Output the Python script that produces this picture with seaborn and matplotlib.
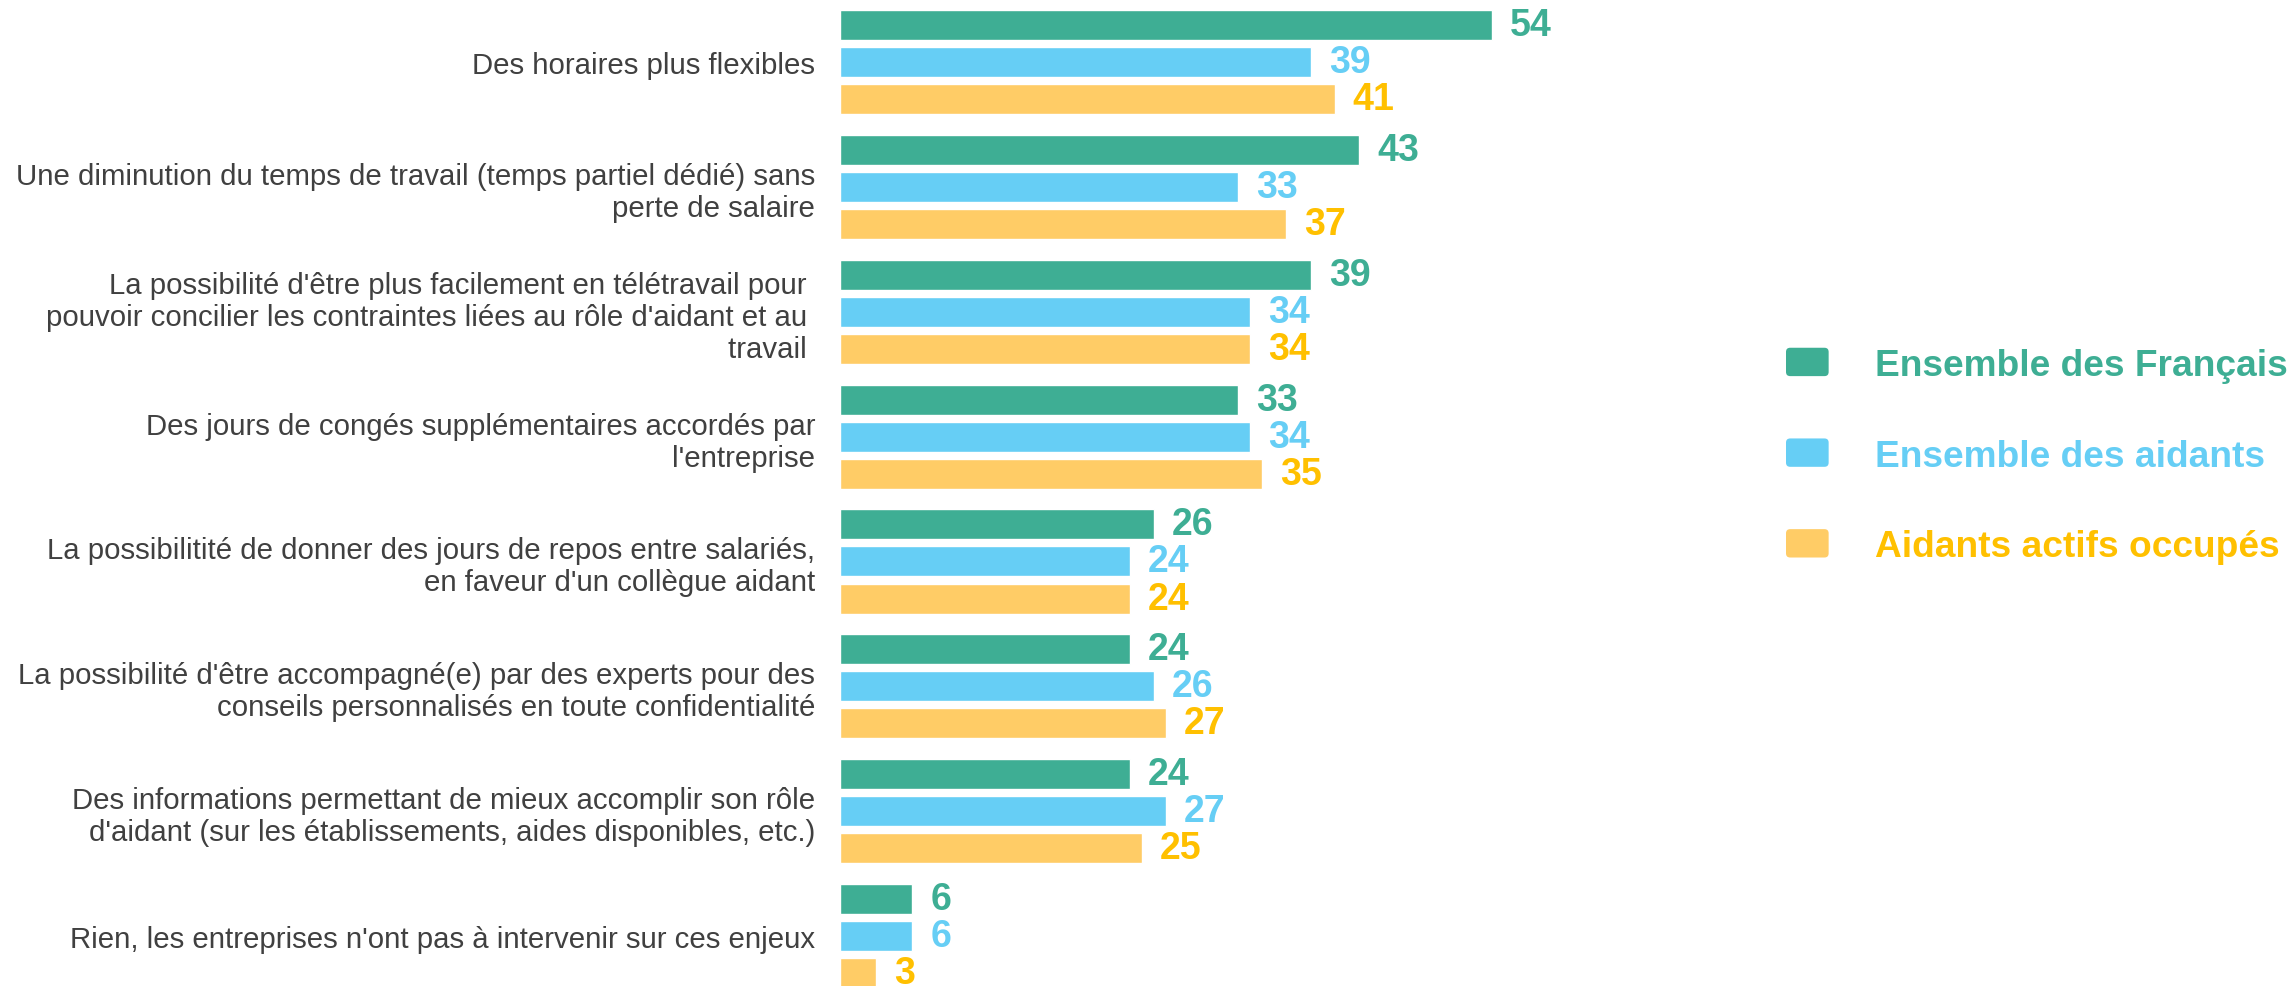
import pandas as pd
import matplotlib
matplotlib.use("Agg")
import matplotlib.pyplot as plt
import seaborn as sns
from matplotlib.patches import FancyBboxPatch
from matplotlib.legend_handler import HandlerPatch

# data
categories = [
    "Des horaires plus flexibles",
    "Une diminution du temps de travail (temps partiel dédié) sans\nperte de salaire",
    "La possibilité d'être plus facilement en télétravail pour \npouvoir concilier les contraintes liées au rôle d'aidant et au \ntravail ",
    "Des jours de congés supplémentaires accordés par\nl'entreprise",
    "La possibilitité de donner des jours de repos entre salariés,\nen faveur d'un collègue aidant",
    "La possibilité d'être accompagné(e) par des experts pour des\nconseils personnalisés en toute confidentialité",
    "Des informations permettant de mieux accomplir son rôle\nd'aidant (sur les établissements, aides disponibles, etc.)",
    "Rien, les entreprises n'ont pas à intervenir sur ces enjeux",
]
series = ["Ensemble des Français", "Ensemble des aidants", "Aidants actifs occupés"]
francais = [54, 43, 39, 33, 26, 24, 24, 6]
aidants = [39, 33, 34, 34, 24, 26, 27, 6]
actifs = [41, 37, 34, 35, 24, 27, 25, 3]

bar_colors = ["#3EAE94", "#66CEF5", "#FFCC66"]
text_colors = ["#3EAE94", "#66CEF5", "#FFC000"]

df = pd.DataFrame({
    "categorie": categories * 3,
    "groupe": [s for s in series for _ in categories],
    "valeur": francais + aidants + actifs,
})


class RoundedHandler(HandlerPatch):
    # rounded squares like the reference legend
    def create_artists(self, legend, orig_handle, xdescent, ydescent,
                       width, height, fontsize, trans):
        p = FancyBboxPatch((-xdescent, -ydescent), width, height,
                           boxstyle="round,pad=0,rounding_size=3",
                           facecolor=orig_handle.get_facecolor(), edgecolor="none",
                           transform=trans)
        return [p]


sns.set_style("white")
plt.rcParams["font.family"] = ["Liberation Sans Narrow", "Liberation Sans", "DejaVu Sans"]

fig = plt.figure(figsize=(22.92, 9.87), dpi=100)
ax = fig.add_axes([840 / 2292, 0, 724 / 2292, 1])

sns.barplot(data=df, y="categorie", x="valeur", hue="groupe", order=categories,
            hue_order=series, palette=bar_colors, orient="h", width=0.89, gap=0.19,
            saturation=1, ax=ax)

for cont, col in zip(ax.containers, text_colors):
    ax.bar_label(cont, padding=13, color=col, fontsize=27, fontweight="bold")

ax.set_xlim(0, 60)
ax.set_ylim(7.40, -0.505)
ax.set_xlabel("")
ax.set_ylabel("")
ax.set_xticks([])
ax.tick_params(axis="y", length=0, pad=18)
for lab in ax.get_yticklabels():
    lab.set_fontsize(21.2)
    lab.set_color("#404040")
    lab.set_linespacing(1.18)
sns.despine(ax=ax, left=True, bottom=True)

handles, labels = ax.get_legend_handles_labels()
ax.get_legend().remove()
leg = fig.legend(handles, labels, loc="center left", bbox_to_anchor=(1786 / 2292, 0.537),
                 frameon=False, prop={"weight": "bold", "size": 26.7,
                                      "family": ["Liberation Sans", "DejaVu Sans"]},
                 labelcolor=text_colors, handlelength=1.15, handleheight=0.8,
                 handletextpad=1.25, labelspacing=1.5, borderpad=0, borderaxespad=0,
                 handler_map={h: RoundedHandler() for h in handles})

fig.savefig("out.png", dpi=100)
